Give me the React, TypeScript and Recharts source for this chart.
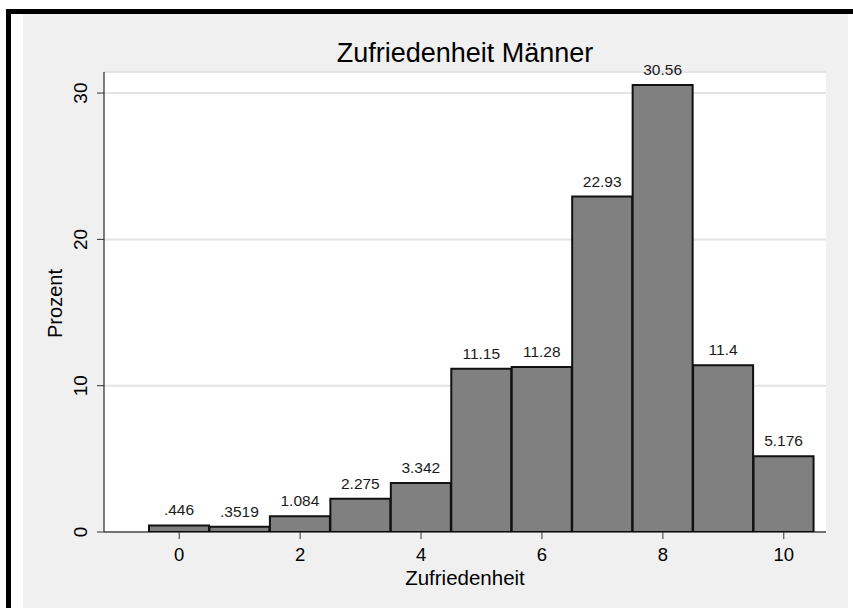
import { BarChart, Bar, XAxis, YAxis, CartesianGrid, LabelList } from 'recharts'

const categories = [0, 1, 2, 3, 4, 5, 6, 7, 8, 9, 10]
const percent = [0.446, 0.3519, 1.084, 2.275, 3.342, 11.15, 11.28, 22.93, 30.56, 11.4, 5.176]
const percentLabels = ['.446', '.3519', '1.084', '2.275', '3.342', '11.15', '11.28', '22.93', '30.56', '11.4', '5.176']
const yTicks = [0, 10, 20, 30]

const data = categories.map((c, i) => ({ x: c, value: percent[i], label: percentLabels[i] }))

const FONT = '"Liberation Sans", Arial, sans-serif'

function YTick(props: any) {
  const { x, y, payload } = props
  const bx = x - 8
  return (
    <text
      x={bx}
      y={y}
      transform={`rotate(-90 ${bx} ${y})`}
      textAnchor="middle"
      fontSize={19}
      fontFamily={FONT}
      fill="#000"
    >
      {payload.value}
    </text>
  )
}

export default function App() {
  return (
    <div style={{ position: 'absolute', left: 0, top: 0, width: 853, height: 608, background: '#fff', overflow: 'hidden' }}>
      {/* frame */}
      <div style={{ position: 'absolute', left: 6, top: 9, width: 847, height: 5, background: '#000' }} />
      <div style={{ position: 'absolute', left: 6, top: 9, width: 5, height: 599, background: '#000' }} />
      <div style={{ position: 'absolute', left: 23, top: 14, width: 825, height: 594, background: '#f0f0f0' }}>
        <BarChart
          width={825}
          height={594}
          data={data}
          barCategoryGap={0}
          margin={{ top: 58, right: 22, bottom: 46, left: 21 }}
        >
          <CartesianGrid vertical={false} fill="#fff" stroke="#e4e4e4" strokeWidth={2} />
          <XAxis
            dataKey="x"
            interval={1}
            padding={{ left: 45, right: 12 }}
            height={30}
            tickSize={7}
            tickMargin={9}
            axisLine={{ stroke: '#000', strokeWidth: 1 }}
            tickLine={{ stroke: '#333' }}
            tick={{ fontSize: 18.5, fill: '#000', fontFamily: FONT }}
          />
          <YAxis
            width={60}
            domain={[0, 31.44]}
            ticks={yTicks}
            allowDataOverflow
            tickSize={7}
            axisLine={{ stroke: '#000', strokeWidth: 1 }}
            tickLine={{ stroke: '#333' }}
            tick={<YTick />}
          />
          <Bar dataKey="value" fill="#808080" stroke="#111" strokeWidth={2} isAnimationActive={false}>
            <LabelList
              dataKey="label"
              position="top"
              offset={10}
              style={{ fontSize: 15.5, fill: '#1a1a1a', fontFamily: FONT }}
            />
          </Bar>
        </BarChart>
        <svg width={825} height={594} style={{ position: 'absolute', left: 0, top: 0, pointerEvents: 'none' }}>
          <text x={442} y={48} textAnchor="middle" fontSize={27} fontFamily={FONT} fill="#000">
            Zufriedenheit Männer
          </text>
          <text x={442} y={571} textAnchor="middle" fontSize={20.5} fontFamily={FONT} fill="#000">
            Zufriedenheit
          </text>
          <text
            x={39}
            y={289.5}
            transform="rotate(-90 39 289.5)"
            textAnchor="middle"
            fontSize={20}
            fontFamily={FONT}
            fill="#000"
          >
            Prozent
          </text>
        </svg>
      </div>
    </div>
  )
}
